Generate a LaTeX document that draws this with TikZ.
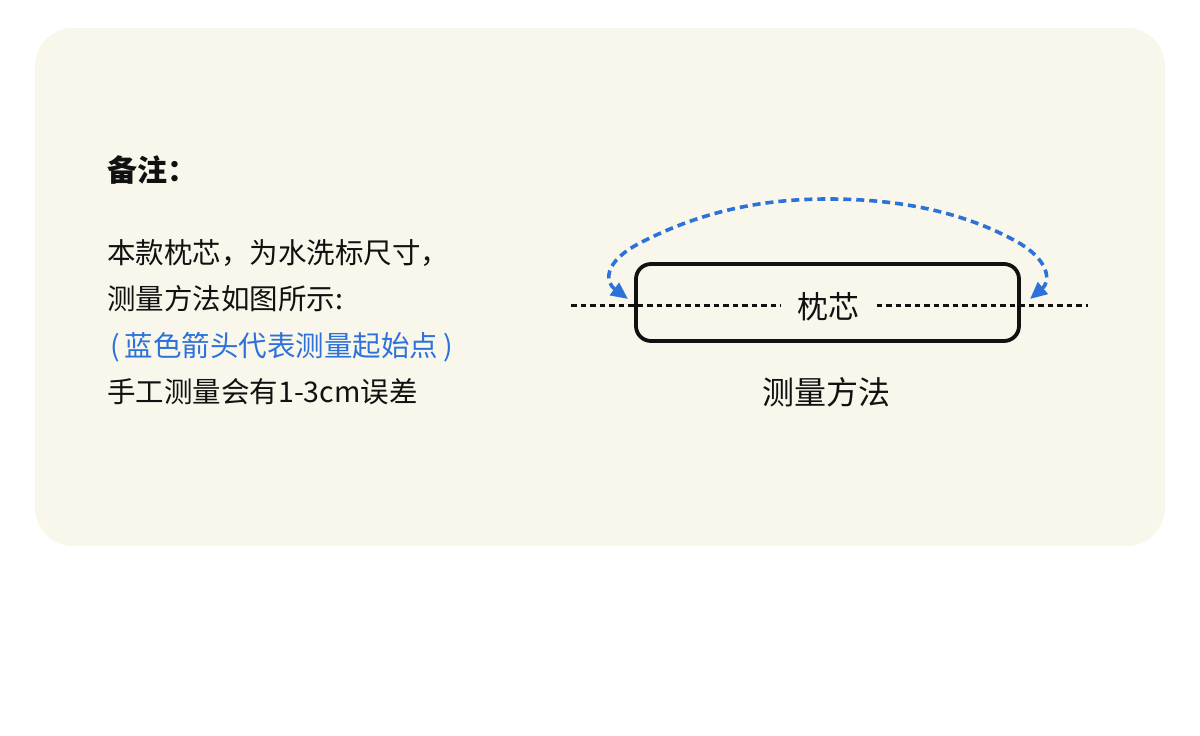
\documentclass[tikz,border=0pt]{standalone}
\usepackage{fontspec}
\setmainfont{Noto Sans CJK SC}
\usetikzlibrary{arrows.meta}
\definecolor{panel}{HTML}{F9F7EB}
\definecolor{mblue}{HTML}{2D72DA}
\definecolor{ink}{HTML}{111111}
\tikzset{
  txt/.style={anchor=base west, inner sep=0pt, text=ink, font=\fontsize{28.5}{34}\selectfont},
  bluetxt/.style={txt, text=mblue},
  blackdash/.style={draw=ink, line width=3pt, dash pattern=on 5.5pt off 4pt},
  bluearc/.style={draw=mblue, line width=3.6pt, dash pattern=on 8pt off 5pt,
    {Triangle[length=17pt,width=15pt]}-{Triangle[length=17pt,width=15pt]}},
  pillow/.style={draw=ink, line width=3.8pt, rounded corners=15pt, minimum width=383pt, minimum height=77pt, inner sep=0pt}
}
\begin{document}
\begin{tikzpicture}[x=1pt,y=-1pt]
\useasboundingbox (0,0) rectangle (1200,736);
\fill[panel, rounded corners=38pt] (35,28) rectangle (1165,546);
% notes
\node[txt, font=\fontsize{30}{36}\selectfont\bfseries] (title) at (107,181) {备注：};
\node[txt] (l1) at (107,263) {本款枕芯，为水洗标尺寸，};
\node[txt] (l2) at (107,309) {测量方法如图所示:};
\node[bluetxt] (l3) at (107,356) {\hspace{3pt}(\hspace{5pt}蓝色箭头代表测量起始点\hspace{5pt})};
\node[txt] (l4) at (107,402) {手工测量会有1-3cm误差};
% diagram
\coordinate (dl) at (571,305);
\coordinate (dr) at (1088,305);
\node[inner xsep=17pt, inner ysep=0pt, text=ink, font=\fontsize{31}{36}\selectfont] (core) at (828.5,307) {枕芯};
\draw[blackdash] (dl) -- (core.west |- dl);
\draw[blackdash] (core.east |- dr) -- (dr);
\node[pillow] (box) at (827.5,302.5) {};
\node[anchor=base, inner sep=0pt, text=ink, font=\fontsize{32}{38}\selectfont] (cap) at (826,404) {测量方法};
\coordinate (L) at (628,299);
\coordinate (R) at (1030,299);
\draw[bluearc] (L) .. controls (605,282) and (603,262) .. (640,243)
  .. controls (700,212) and (760,199) .. (828,199)
  .. controls (900,199) and (960,212) .. (1010,238)
  .. controls (1052,259) and (1050,282) .. (R);
\end{tikzpicture}
\end{document}
